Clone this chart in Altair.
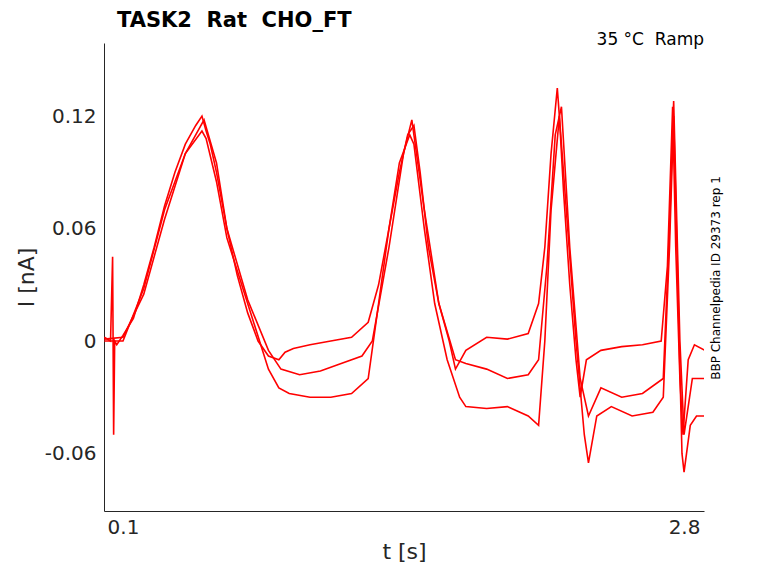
import altair as alt
import pandas as pd

# trace A (upper)
ta = [0.01,0.04,0.05,0.055,0.06,0.07,0.1,0.15,0.2,0.25,0.3,0.35,0.4,0.45,0.48,0.5,0.52,0.55,0.6,0.65,0.7,0.75,0.8,0.85,0.88,0.92,1.0,1.1,1.2,1.28,1.33,1.38,1.43,1.47,1.5,1.53,1.57,1.62,1.67,1.70,1.75,1.85,1.95,2.05,2.10,2.13,2.16,2.19,2.2,2.22,2.25,2.28,2.30,2.33,2.4,2.5,2.6,2.69,2.72,2.745,2.76,2.78,2.795,2.82,2.85,2.9]
ia = [0.002,0.0,0.045,-0.05,0.0,-0.002,0.003,0.012,0.03,0.05,0.072,0.09,0.105,0.115,0.12,0.112,0.105,0.09,0.06,0.035,0.015,0.0,-0.008,-0.01,-0.006,-0.004,-0.002,0.0,0.002,0.01,0.03,0.06,0.09,0.11,0.115,0.09,0.05,0.02,0.0,-0.015,-0.005,0.002,0.001,0.004,0.02,0.05,0.1,0.135,0.12,0.08,0.03,-0.01,-0.03,-0.01,-0.005,-0.003,-0.002,0.0,0.04,0.125,0.05,-0.02,-0.05,-0.01,-0.002,-0.005]
# trace B (lower)
tb = [0.01,0.1,0.2,0.3,0.4,0.48,0.5,0.55,0.6,0.7,0.8,0.85,0.9,1.0,1.1,1.2,1.28,1.33,1.38,1.43,1.48,1.5,1.55,1.6,1.66,1.72,1.75,1.85,1.95,2.05,2.1,2.13,2.16,2.2,2.24,2.28,2.32,2.34,2.38,2.45,2.55,2.65,2.7,2.73,2.75,2.77,2.79,2.8,2.83,2.86,2.9]
ib = [0.0,0.0,0.028,0.07,0.1,0.112,0.108,0.085,0.055,0.02,-0.015,-0.025,-0.028,-0.03,-0.03,-0.028,-0.02,0.02,0.06,0.095,0.11,0.105,0.06,0.02,-0.01,-0.03,-0.035,-0.036,-0.035,-0.04,-0.045,0.0,0.07,0.12,0.06,0.0,-0.05,-0.065,-0.04,-0.035,-0.04,-0.038,-0.03,0.05,0.12,0.03,-0.06,-0.07,-0.045,-0.04,-0.04]
# trace C (middle)
tc = [0.01,0.1,0.2,0.3,0.4,0.49,0.55,0.6,0.7,0.8,0.86,0.95,1.05,1.15,1.25,1.3,1.38,1.45,1.49,1.55,1.62,1.7,1.75,1.85,1.95,2.05,2.1,2.14,2.18,2.21,2.25,2.3,2.34,2.4,2.5,2.6,2.7,2.73,2.75,2.78,2.8,2.84,2.9]
ic = [0.001,0.002,0.025,0.065,0.1,0.118,0.095,0.06,0.022,-0.005,-0.015,-0.018,-0.016,-0.012,-0.008,0.0,0.05,0.1,0.118,0.07,0.02,-0.01,-0.012,-0.015,-0.02,-0.018,-0.01,0.04,0.11,0.125,0.05,-0.02,-0.04,-0.025,-0.03,-0.028,-0.02,0.06,0.128,0.0,-0.05,-0.02,-0.02]

x_ticks = [0.1, 2.8]
y_ticks = [-0.06, 0, 0.06, 0.12]

df = pd.concat([
    pd.DataFrame({"t": ta, "i": ia, "trace": "a"}),
    pd.DataFrame({"t": tb, "i": ib, "trace": "b"}),
    pd.DataFrame({"t": tc, "i": ic, "trace": "c"}),
])

lines = alt.Chart(df).mark_line(color="#ff0000", strokeWidth=1.6, clip=True).encode(
    alt.X("t:Q").scale(domain=[0.0086, 2.896], nice=False, zero=False)
        .axis(values=x_ticks, format=".1f", title="t [s]", grid=False, ticks=False, labelPadding=6),
    alt.Y("i:Q").scale(domain=[-0.0907, 0.159], nice=False, zero=False)
        .axis(values=y_ticks, labelExpr="replace(format(datum.value, '~g'), '−', '-')",
              title="I [nA]", grid=False, ticks=False, labelPadding=8, titlePadding=6),
    detail="trace:N",
)

nb = "\u00a0"
title = alt.Chart().mark_text(text=f"TASK2{nb}{nb}Rat{nb}{nb}CHO_FT", fontSize=21, fontWeight="bold",
                              align="left", font="DejaVu Sans").encode(x=alt.value(13), y=alt.value(-22))
ramp = alt.Chart().mark_text(text=f"35{nb}°C{nb}{nb}Ramp", fontSize=17, align="right", font="DejaVu Sans").encode(
    x=alt.value(600), y=alt.value(-3))
rep = alt.Chart().mark_text(text="BBP Channelpedia ID 29373 rep 1", fontSize=12, angle=270,
                            font="DejaVu Sans").encode(x=alt.value(612), y=alt.value(235))

chart = alt.layer(lines, title, ramp, rep).properties(
    width=600, height=468,
    autosize=alt.AutoSizeParams(type="none"),
    padding={"left": 96, "top": 35, "right": 60, "bottom": 60},
).configure_axis(
    labelFontSize=20, titleFontSize=22, labelColor="#262626", titleColor="#262626",
    labelFont="DejaVu Sans", titleFont="DejaVu Sans", titleFontWeight="normal",
    domainColor="#262626",
).configure_view(stroke=None)

chart.save("out.html", embed_options={"renderer": "svg", "actions": False})
